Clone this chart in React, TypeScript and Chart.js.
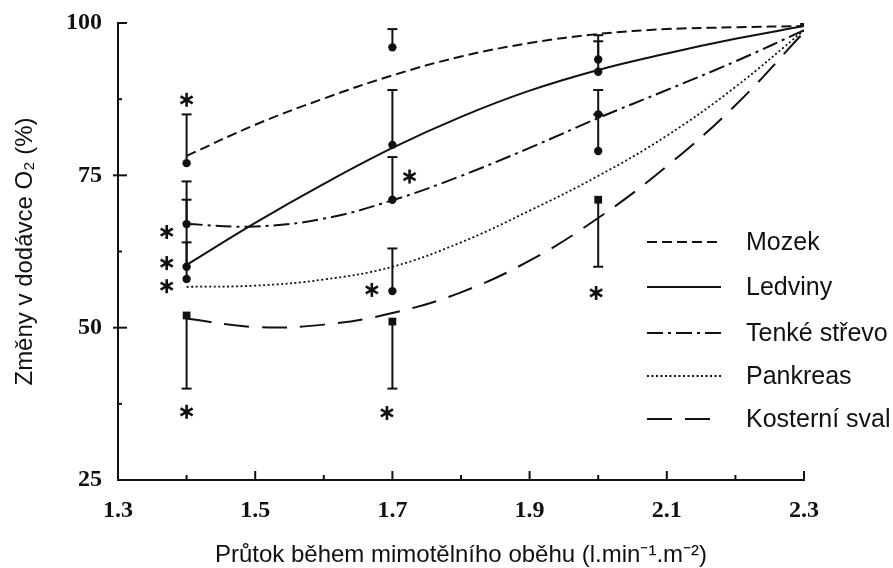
import React, { useEffect, useRef } from 'react';
import { Chart, registerables } from 'chart.js';

Chart.register(...registerables);

// ---- data ----
const xTicks = [1.3, 1.5, 1.7, 1.9, 2.1, 2.3];
const xMinorTicks = [1.4, 1.6, 1.8, 2.0, 2.2];
const yTicks = [25, 50, 75, 100];
const yMinorTicks = [37.5, 62.5, 87.5];

// fitted curves
const fitX = [1.4, 1.5, 1.6, 1.7, 1.8, 1.9, 2.0, 2.1, 2.2, 2.3];
const mozekFit = [78.2, 83.3, 87.6, 91.4, 94.5, 96.7, 98.2, 99.0, 99.3, 99.5];
const ledvinyFit = [60.3, 67.2, 73.6, 79.5, 84.6, 88.9, 92.3, 95.0, 97.4, 99.5];
const strevoFit = [67.0, 66.6, 67.9, 70.9, 74.9, 79.5, 84.4, 89.0, 93.7, 98.8];
const pankreasFit = [56.7, 56.9, 57.9, 60.0, 64.0, 69.2, 74.9, 81.5, 89.5, 98.8];
const svalFit = [51.5, 50.1, 50.5, 52.4, 55.8, 61.0, 68.0, 76.5, 86.5, 98.5];

// measured means and error-bar ends
const measX = [1.4, 1.7, 2.0];
const mozekMean = [77, 96, 94];
const mozekErr = [85, 99, 98];
const ledvinyMean = [60, 80, 92];
const ledvinyErr = [71, 89, 97];
const strevoMean = [67, 71, 85];
const strevoErr = [74, 78, 89];
const pankreasMean = [58, 56, 79];
const pankreasErr = [64, 63, 85];
const svalMean = [52, 51, 71];
const svalErr = [40, 40, 60];
const endX = [2.3];
const endY = [100];

// significance asterisks
const starX = [1.4, 1.371, 1.371, 1.371, 1.4, 1.725, 1.67, 1.692, 1.997];
const starY = [87.4, 65.7, 60.6, 56.8, 36.2, 74.8, 56.2, 36.0, 55.7];

const seriesLabels = ['Mozek', 'Ledviny', 'Tenké střevo', 'Pankreas', 'Kosterní sval'];
const seriesDash: number[][] = [[10, 5], [], [16, 5, 3, 5], [2, 2.5], [25, 13]];
const seriesWidth = [2, 2, 2, 1.8, 2];

const INK = '#111';

const decorPlugin = {
  id: 'decor',
  afterDatasetsDraw(chart: any) {
    const { ctx } = chart;
    const x = chart.scales.x;
    const y = chart.scales.y;
    const area = chart.chartArea;
    ctx.save();
    ctx.strokeStyle = INK;
    ctx.fillStyle = INK;
    ctx.lineCap = 'butt';
    const seg = (x1: number, y1: number, x2: number, y2: number) => {
      ctx.beginPath();
      ctx.moveTo(x1, y1);
      ctx.lineTo(x2, y2);
      ctx.stroke();
    };

    // axis ticks (inward)
    ctx.setLineDash([]);
    ctx.lineWidth = 2;
    yTicks.forEach((v) => {
      const py = y.getPixelForValue(v);
      const out = v === 50 || v === 75 ? 5 : 0;
      seg(area.left - out, py, area.left + 9, py);
    });
    yMinorTicks.forEach((v) => {
      const py = y.getPixelForValue(v);
      seg(area.left, py, area.left + 4, py);
    });
    xTicks.forEach((v) => {
      const px = x.getPixelForValue(v);
      seg(px, area.bottom, px, area.bottom - 9);
    });
    xMinorTicks.forEach((v) => {
      const px = x.getPixelForValue(v);
      seg(px, area.bottom, px, area.bottom - 5);
    });

    // error bars
    const means = [mozekMean, ledvinyMean, strevoMean, pankreasMean, svalMean];
    const errs = [mozekErr, ledvinyErr, strevoErr, pankreasErr, svalErr];
    ctx.lineWidth = 2;
    means.forEach((m, si) => {
      m.forEach((v, i) => {
        const px = x.getPixelForValue(measX[i]);
        const y1 = y.getPixelForValue(v);
        const y2 = y.getPixelForValue(errs[si][i]);
        seg(px, y1, px, y2);
        seg(px - 5, y2, px + 5, y2);
      });
    });

    // asterisks
    ctx.lineWidth = 2.6;
    starX.forEach((sx, i) => {
      const px = x.getPixelForValue(sx);
      const py = y.getPixelForValue(starY[i]);
      const r = 7;
      for (let k = 0; k < 3; k++) {
        const a = Math.PI / 2 + (k * Math.PI) / 3;
        seg(px - r * Math.cos(a), py - r * Math.sin(a), px + r * Math.cos(a), py + r * Math.sin(a));
      }
    });

    // legend
    const legendTop = [242, 287, 333, 376, 419];
    ctx.font = '25px "Liberation Sans", Arial, sans-serif';
    ctx.textBaseline = 'middle';
    ctx.textAlign = 'left';
    seriesLabels.forEach((lab, i) => {
      const ly = legendTop[i];
      ctx.lineWidth = seriesWidth[i];
      ctx.setLineDash(seriesDash[i]);
      seg(647, ly, 721, ly);
      ctx.setLineDash([]);
      ctx.fillText(lab, 746, ly + 1);
    });
    ctx.restore();
  },
};

function curve(data: number[], i: number) {
  return {
    type: 'line' as const,
    data: fitX.map((v, k) => ({ x: v, y: data[k] })),
    borderColor: INK,
    borderWidth: seriesWidth[i],
    borderDash: seriesDash[i],
    pointRadius: 0,
    fill: false,
    tension: 0.4,
    order: 2,
  };
}

function points(data: number[], style: string, radius: number) {
  return {
    type: 'scatter' as const,
    data: measX.map((v, k) => ({ x: v, y: data[k] })),
    pointStyle: style,
    pointRadius: radius,
    backgroundColor: INK,
    borderColor: INK,
    borderWidth: 0,
    showLine: false,
    order: 1,
  };
}

export default function App() {
  const ref = useRef<HTMLCanvasElement | null>(null);
  useEffect(() => {
    if (!ref.current) return;
    const tickFont = { family: '"Liberation Serif", "Times New Roman", serif', size: 24, weight: 'bold' as const };
    const titleFont = { family: '"Liberation Sans", Arial, sans-serif', size: 24, lineHeight: 1 };
    const chart = new Chart(ref.current, {
      type: 'scatter',
      data: {
        datasets: [
          curve(mozekFit, 0),
          curve(ledvinyFit, 1),
          curve(strevoFit, 2),
          curve(pankreasFit, 3),
          curve(svalFit, 4),
          points(mozekMean, 'circle', 4.2),
          points(ledvinyMean, 'circle', 4.2),
          points(strevoMean, 'circle', 4.2),
          points(pankreasMean, 'circle', 4.2),
          points(svalMean, 'rect', 5.5),
          {
            type: 'scatter',
            data: endX.map((v, k) => ({ x: v, y: endY[k] })),
            pointStyle: 'rect',
            pointRadius: 5.5,
            backgroundColor: INK,
            borderWidth: 0,
            order: 1,
          },
        ] as any,
      },
      options: {
        animation: false,
        responsive: false,
        devicePixelRatio: 1,
        layout: { padding: { left: 0, top: 23, right: 89, bottom: 0 } },
        plugins: { legend: { display: false }, tooltip: { enabled: false } },
        scales: {
          x: {
            type: 'linear',
            min: 1.3,
            max: 2.3,
            afterBuildTicks: (s: any) => {
              s.ticks = xTicks.map((v) => ({ value: v }));
            },
            afterFit: (s: any) => {
              s.height = 88;
              s.paddingLeft = 0;
              s.paddingRight = 0;
            },
            ticks: {
              callback: (v: any) => Number(v).toFixed(1),
              font: tickFont,
              color: INK,
              padding: 16,
              autoSkip: false,
              maxRotation: 0,
            },
            grid: { display: false, drawTicks: false },
            border: { display: true, color: INK, width: 2 },
            title: {
              display: true,
              text: 'Průtok během mimotělního oběhu (l.min⁻¹.m⁻²)',
              font: titleFont,
              color: INK,
              padding: { top: 0, bottom: 1 },
            },
          },
          y: {
            type: 'linear',
            min: 25,
            max: 100,
            afterBuildTicks: (s: any) => {
              s.ticks = yTicks.map((v) => ({ value: v }));
            },
            afterFit: (s: any) => {
              s.width = 118;
              s.paddingTop = 0;
              s.paddingBottom = 0;
            },
            ticks: {
              font: tickFont,
              color: INK,
              padding: 16,
            },
            grid: { display: false, drawTicks: false },
            border: { display: true, color: INK, width: 2 },
            title: {
              display: true,
              text: 'Změny v dodávce O₂ (%)',
              font: titleFont,
              color: INK,
              padding: { top: 13, bottom: 0 },
            },
          },
        },
      } as any,
      plugins: [decorPlugin],
    });
    return () => chart.destroy();
  }, []);

  return (
    <div style={{ position: 'fixed', left: 0, top: 0, width: 893, height: 568, background: '#fff' }}>
      <canvas ref={ref} width={893} height={568} style={{ display: 'block' }} />
    </div>
  );
}
